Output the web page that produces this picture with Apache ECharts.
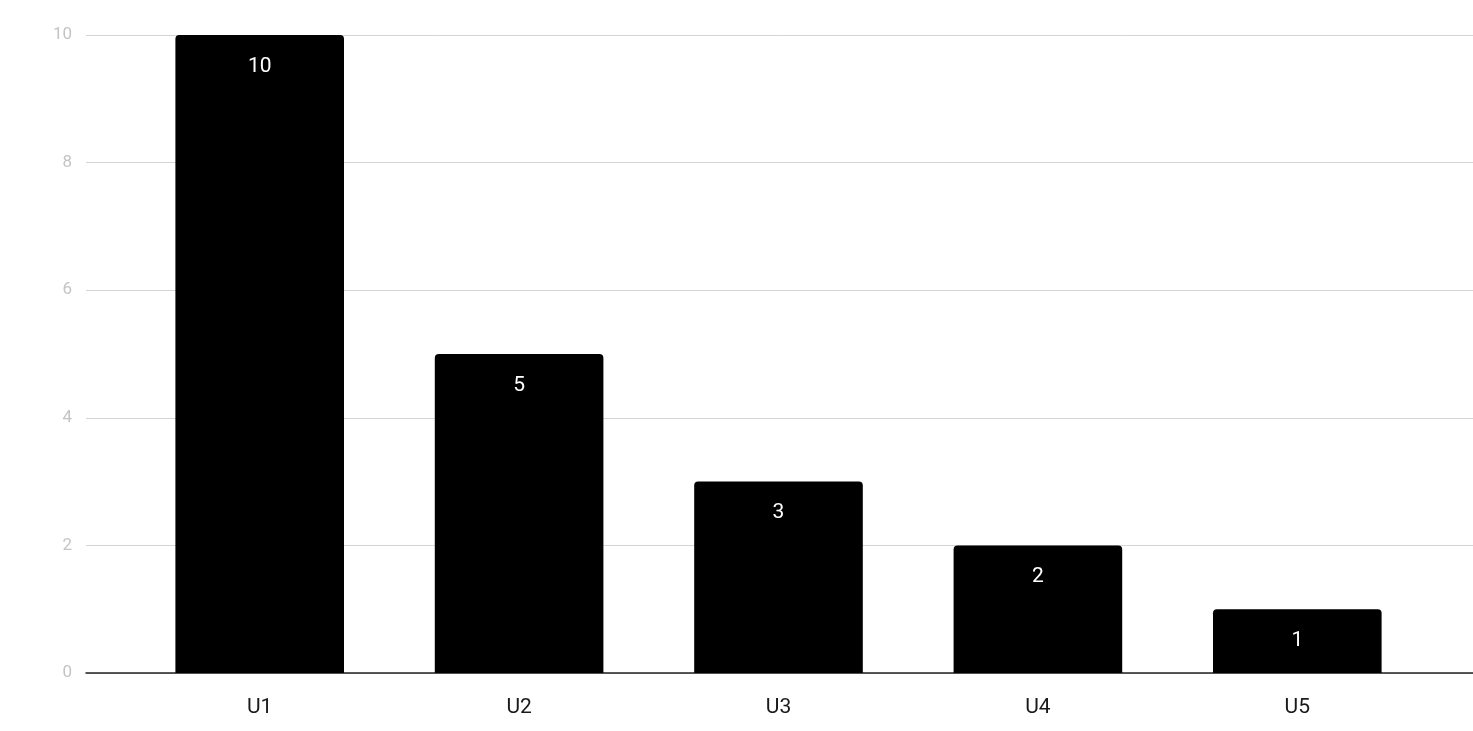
<!DOCTYPE html>
<html>
<head>
<meta charset="utf-8">
<script src="https://cdn.jsdelivr.net/npm/echarts@6/dist/echarts.min.js"></script>
<style>
  html, body { margin: 0; padding: 0; background: #fff; }
  #chart { width: 1473px; height: 731px; }
</style>
</head>
<body>
<div id="chart"></div>
<script>
// Counts per unit
const categories = ['U1', 'U2', 'U3', 'U4', 'U5'];
const values = [10, 5, 3, 2, 1];
const yTicks = [0, 2, 4, 6, 8, 10];

const chart = echarts.init(document.getElementById('chart'), null, { renderer: 'canvas' });

const FONT = 'Roboto, "Noto Sans", sans-serif';

chart.setOption({
  animation: false,
  backgroundColor: '#ffffff',
  grid: [
    // full-width frame: y labels, gridlines and baseline
    { left: 86, right: 0, top: 35, bottom: 58, containLabel: false },
    // inner band holding the bars and category labels
    { left: 130, right: 46, top: 35, bottom: 58, containLabel: false }
  ],
  xAxis: [
    {
      gridIndex: 0, type: 'value', min: 0, max: 1,
      axisLine: { show: true, onZero: false, lineStyle: { color: '#222', width: 1.5 } },
      axisTick: { show: false }, axisLabel: { show: false }, splitLine: { show: false }
    },
    {
      gridIndex: 1, type: 'category', data: categories,
      axisLine: { show: false }, axisTick: { show: false },
      axisLabel: { color: '#1a1a1a', fontSize: 21, fontFamily: FONT, margin: 24 }
    }
  ],
  yAxis: [
    {
      gridIndex: 0, type: 'value', min: yTicks[0], max: yTicks[yTicks.length - 1], interval: 2,
      axisLine: { show: false }, axisTick: { show: false },
      axisLabel: { color: '#c4c4c4', fontSize: 17, fontFamily: FONT, margin: 14 },
      splitLine: { show: true, lineStyle: { color: '#d4d4d4', width: 1 } }
    },
    {
      gridIndex: 1, type: 'value', min: yTicks[0], max: yTicks[yTicks.length - 1], interval: 2,
      show: false, splitLine: { show: false }
    }
  ],
  series: [
    {
      type: 'bar',
      xAxisIndex: 1, yAxisIndex: 1,
      data: values,
      barWidth: '65%',
      itemStyle: { color: '#000000', borderRadius: [4, 4, 0, 0] },
      label: {
        show: true, position: 'insideTop', distance: 21,
        color: '#ffffff', fontSize: 21, fontFamily: FONT
      },
      z: 3
    }
  ]
});
</script>
</body>
</html>
